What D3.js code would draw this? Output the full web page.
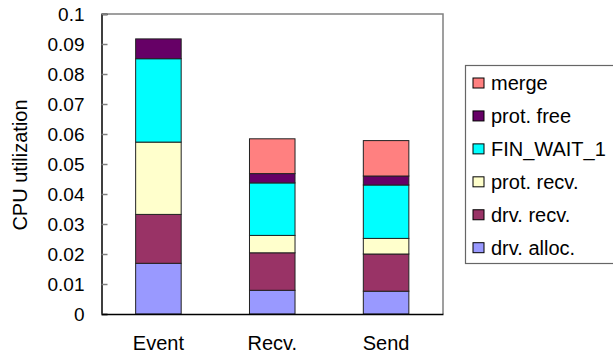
<!DOCTYPE html>
<html>
<head>
<meta charset="utf-8">
<script src="https://cdn.jsdelivr.net/npm/d3@7"></script>
<style>
  html, body { margin: 0; padding: 0; background: #fff; }
  svg { display: block; font-family: "Liberation Sans", Arial, sans-serif; }
</style>
</head>
<body>
<svg id="chart" width="613" height="357"></svg>
<script>
// CPU utilization per event type, broken down by processing stage
const categories = ["Event", "Recv.", "Send"];
const seriesNames = ["drv. alloc.", "drv. recv.", "prot. recv.", "FIN_WAIT_1", "prot. free", "merge"];
const seriesColors = ["#9999FF", "#993366", "#FFFFCC", "#00FFFF", "#660066", "#FF8080"];
const drvAlloc = [0.0169, 0.0079, 0.0076];
const drvRecv  = [0.0163, 0.0125, 0.0124];
const protRecv = [0.0241, 0.0058, 0.0052];
const finWait1 = [0.0278, 0.0175, 0.0178];
const protFree = [0.0066, 0.0031, 0.0030];
const merge    = [0.0000, 0.0116, 0.0118];
const yTicks = [0, 0.01, 0.02, 0.03, 0.04, 0.05, 0.06, 0.07, 0.08, 0.09, 0.1];

const seriesValues = [drvAlloc, drvRecv, protRecv, finWait1, protFree, merge];
const rows = categories.map((c, i) => {
  const r = { category: c };
  seriesNames.forEach((s, k) => { r[s] = seriesValues[k][i]; });
  return r;
});

const svg = d3.select("#chart");
const plot = { left: 101.5, right: 443, top: 14, bottom: 314 };

const x = d3.scaleBand().domain(categories).range([plot.left, plot.right]).padding(0);
const y = d3.scaleLinear().domain([0, 0.1]).range([plot.bottom, plot.top]);
const color = d3.scaleOrdinal().domain(seriesNames).range(seriesColors);
const barW = x.bandwidth() * 0.4;

// plot frame (top and right edges)
svg.append("path")
  .attr("d", `M${plot.left},${plot.top}H${plot.right}V${plot.bottom}`)
  .attr("fill", "none").attr("stroke", "#808080").attr("stroke-width", 1.5);

// stacked bars
const stacked = d3.stack().keys(seriesNames)(rows);
svg.append("g").selectAll("g").data(stacked).join("g")
  .attr("fill", d => color(d.key))
  .selectAll("rect").data(d => d).join("rect")
  .attr("x", d => x(d.data.category) + x.bandwidth() / 2 - barW / 2)
  .attr("y", d => y(d[1]))
  .attr("width", barW)
  .attr("height", d => y(d[0]) - y(d[1]))
  .attr("stroke", "#222").attr("stroke-width", 1)
  .attr("display", d => (d[1] - d[0]) > 0 ? null : "none");

// y axis with inward ticks
const yAxis = svg.append("g")
  .attr("transform", `translate(${plot.left},0)`)
  .call(d3.axisLeft(y).tickValues(yTicks).tickFormat(d3.format("~g")).tickSize(-6).tickPadding(17));
yAxis.select(".domain").attr("stroke", "#000").attr("stroke-width", 1.5);
yAxis.selectAll(".tick line").attr("stroke", "#808080").attr("stroke-width", 1.5);
yAxis.selectAll("text").attr("font-size", 19).attr("fill", "#000")
  .attr("font-family", "Liberation Sans, Arial, sans-serif");

// x axis
const xAxis = svg.append("g")
  .attr("transform", `translate(0,${plot.bottom})`)
  .call(d3.axisBottom(x).tickSize(0).tickPadding(22));
xAxis.select(".domain").attr("stroke", "#000").attr("stroke-width", 1.5);
xAxis.selectAll("text").attr("font-size", 20).attr("fill", "#000")
  .attr("font-family", "Liberation Sans, Arial, sans-serif");

// y axis title
svg.append("text")
  .attr("transform", "translate(27,165) rotate(-90)")
  .attr("text-anchor", "middle")
  .attr("font-size", 20)
  .text("CPU utilization");

// legend
const legend = svg.append("g");
legend.append("rect")
  .attr("x", 465.5).attr("y", 65.5).attr("width", 160).attr("height", 198)
  .attr("fill", "#fff").attr("stroke", "#666").attr("stroke-width", 1.2);
const legendOrder = seriesNames.slice().reverse();
const ly = d3.scalePoint().domain(legendOrder).range([83, 247.7]);
const items = legend.selectAll("g.item").data(legendOrder).join("g").attr("class", "item")
  .attr("transform", d => `translate(0,${ly(d)})`);
items.append("rect")
  .attr("x", 473).attr("y", -5).attr("width", 11).attr("height", 10)
  .attr("fill", d => color(d)).attr("stroke", "#000").attr("stroke-width", 1);
items.append("text")
  .attr("x", 491).attr("dy", "0.36em")
  .attr("font-size", 20)
  .text(d => d);
</script>
</body>
</html>
